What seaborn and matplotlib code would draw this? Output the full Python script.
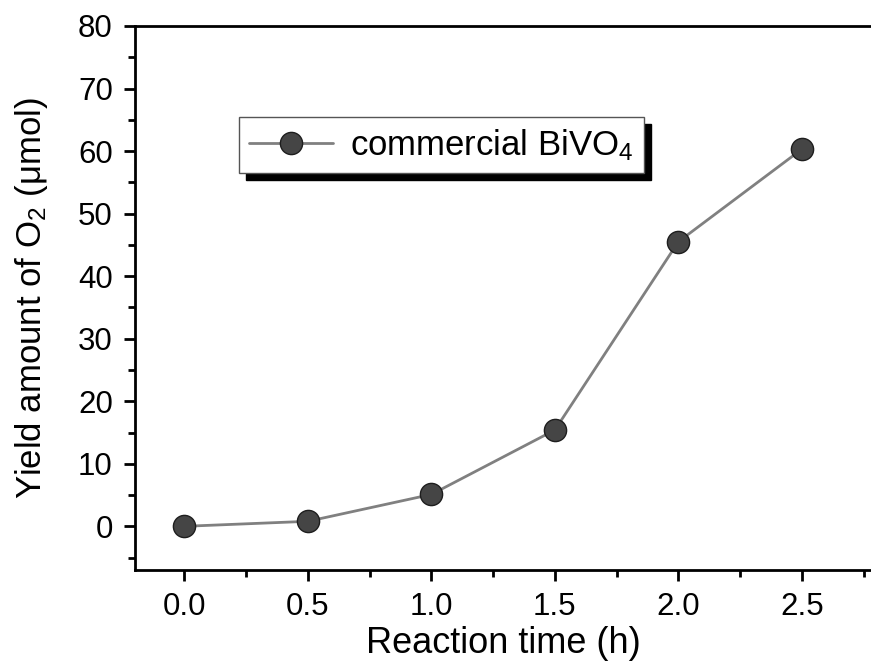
import numpy as np
import pandas as pd
import seaborn as sns
import matplotlib.pyplot as plt
from matplotlib.ticker import MultipleLocator

# data
reaction_time = [0.0, 0.5, 1.0, 1.5, 2.0, 2.5]
o2_yield = [0.0, 0.8, 5.1, 15.4, 45.5, 60.3]
series_name = 'commercial BiVO$_4$'

df = pd.DataFrame({'time': reaction_time, 'yield': o2_yield})

sns.set_style('ticks')
plt.rcParams['font.family'] = ['Liberation Sans', 'DejaVu Sans']
plt.rcParams['mathtext.fontset'] = 'custom'
plt.rcParams['mathtext.rm'] = 'Liberation Sans'
plt.rcParams['mathtext.it'] = 'Liberation Sans:italic'
plt.rcParams['text.color'] = 'black'
plt.rcParams['axes.labelcolor'] = 'black'
plt.rcParams['xtick.color'] = 'black'
plt.rcParams['ytick.color'] = 'black'

fig = plt.figure(figsize=(8.71, 6.66), dpi=100)
ax = fig.add_axes([0.155, 0.144, 0.845, 0.817])

sns.lineplot(data=df, x='time', y='yield', ax=ax, color='#808080', linewidth=2,
             marker='o', markersize=16, markerfacecolor='#454545',
             markeredgecolor='#1e1e1e', markeredgewidth=1, label=series_name)

ax.set_xlim(-0.2, 2.78)
ax.set_ylim(-7, 80)
ax.xaxis.set_major_locator(MultipleLocator(0.5))
ax.xaxis.set_minor_locator(MultipleLocator(0.25))
ax.yaxis.set_major_locator(MultipleLocator(10))
ax.yaxis.set_minor_locator(MultipleLocator(5))
ax.set_xticks(np.arange(0, 2.51, 0.5))
ax.set_xticklabels(['0.0', '0.5', '1.0', '1.5', '2.0', '2.5'])

ax.tick_params(which='major', direction='out', length=8, width=2, labelsize=22.5,
               pad=8)
ax.tick_params(which='minor', direction='out', length=5, width=2)

for side in ['left', 'bottom', 'top']:
    ax.spines[side].set_linewidth(2)
    ax.spines[side].set_color('black')
ax.spines['right'].set_visible(False)

ax.set_xlabel('Reaction time (h)', fontsize=26, labelpad=3)
ax.set_ylabel('Yield amount of O$_2$ (μmol)', fontsize=25, labelpad=20)

leg = ax.legend(loc='upper left', bbox_to_anchor=(0.141, 0.833), fontsize=25,
                frameon=True, fancybox=False, handlelength=2.4,
                borderpad=0.3, handletextpad=0.5, borderaxespad=0,
                shadow={'ox': 5, 'oy': -5, 'color': 'black', 'alpha': 1})
leg.get_frame().set_edgecolor('#555555')
leg.get_frame().set_linewidth(1)
leg.get_frame().set_alpha(1)

fig.savefig('out.png', dpi=100)
